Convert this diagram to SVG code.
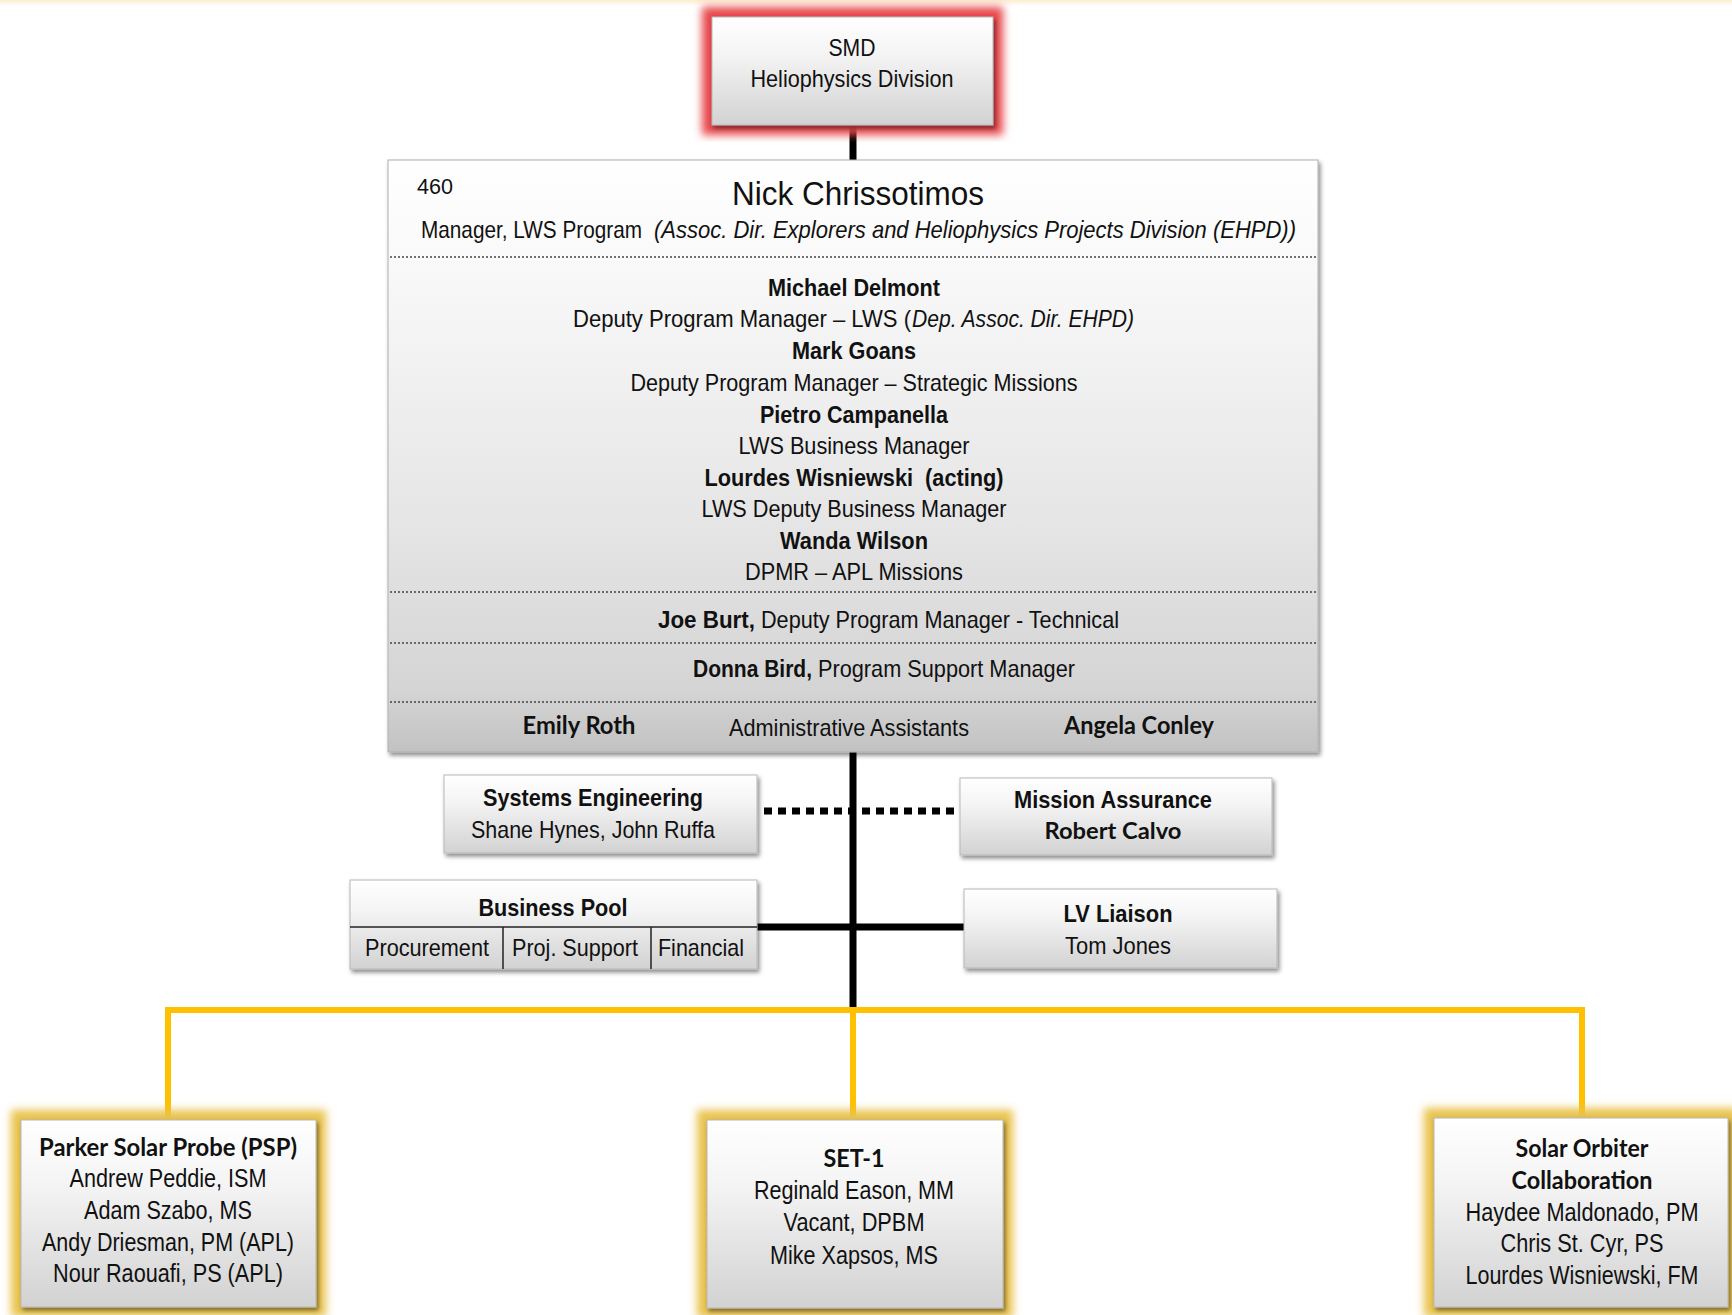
<svg xmlns="http://www.w3.org/2000/svg" width="1732" height="1315" viewBox="0 0 1732 1315">
<defs>
<linearGradient id="topband" x1="0" y1="0" x2="0" y2="1"><stop offset="0" stop-color="#fbeecf"/><stop offset="1" stop-color="#ffffff"/></linearGradient>
<linearGradient id="boxg" x1="0" y1="0" x2="0" y2="1"><stop offset="0" stop-color="#ffffff"/><stop offset="0.35" stop-color="#f4f4f4"/><stop offset="1" stop-color="#d2d2d2"/></linearGradient>
<linearGradient id="maing" x1="0" y1="0" x2="0" y2="1"><stop offset="0" stop-color="#ffffff"/><stop offset="0.15" stop-color="#fafafa"/><stop offset="0.6" stop-color="#e6e6e6"/><stop offset="0.9" stop-color="#d4d4d4"/><stop offset="1" stop-color="#c2c2c2"/></linearGradient>
<filter id="shadow" x="-5%" y="-5%" width="115%" height="120%"><feDropShadow dx="2" dy="3" stdDeviation="2" flood-color="#000" flood-opacity="0.45"/></filter>
<filter id="glow" x="-15%" y="-15%" width="130%" height="130%"><feGaussianBlur stdDeviation="4"/></filter>
<style>
text{font-family:"Liberation Sans",Arial,sans-serif;fill:#111;text-anchor:middle;font-size:24px}
.s{text-anchor:start}
.b{font-weight:bold}
.i{font-style:italic}
.cal{font-family:"Lato","Liberation Sans",sans-serif;font-weight:bold}
.bx{fill:url(#boxg);stroke:#b8b8b8;stroke-width:1;filter:url(#shadow)}
.dot{stroke:#444;stroke-width:1.5;stroke-dasharray:2 2;fill:none}
.blk{stroke:#000;stroke-width:7;fill:none}
.yel{stroke:#FFC000;stroke-width:6;fill:none}
.gy{fill:none;stroke:#e9c24c;stroke-width:20;filter:url(#glow)}
.gr{fill:none;stroke:#e8474c;stroke-width:20;filter:url(#glow)}
.bt{font-size:25px}
</style>
</defs>
<rect x="0" y="0" width="1732" height="1315" fill="#ffffff"/>
<rect x="0" y="0" width="1732" height="6" fill="url(#topband)"/>

<g id="connectors">
<line class="blk" x1="853" y1="122" x2="853" y2="162"/>
<line class="blk" x1="853" y1="750" x2="853" y2="1010"/>
<line x1="764" y1="811" x2="960" y2="811" stroke="#000" stroke-width="7" stroke-dasharray="8 6"/>
<line class="blk" x1="755" y1="927" x2="966" y2="927"/>
<path class="yel" d="M168,1118 V1010 H1582 V1118 M853,1010 V1118"/>
</g>

<g id="smd">
<rect class="gr" x="712" y="17" width="281" height="108"/>
<rect class="bx" x="712" y="17" width="281" height="108"/>
<g transform="scale(0.8,1)">
<text x="1065" y="56" textLength="58.75" lengthAdjust="spacingAndGlyphs">SMD</text>
<text x="1065" y="87" textLength="253.75" lengthAdjust="spacingAndGlyphs">Heliophysics Division</text>
</g>
</g>

<g id="lws-office">
<rect x="388" y="160" width="930" height="592" fill="url(#maing)" stroke="#b0b0b0" stroke-width="1" filter="url(#shadow)"/>
<line class="dot" x1="390" y1="257" x2="1316" y2="257"/>
<line class="dot" x1="390" y1="592" x2="1316" y2="592"/>
<line class="dot" x1="390" y1="643" x2="1316" y2="643"/>
<line class="dot" x1="390" y1="702" x2="1316" y2="702"/>
<g transform="scale(0.8,1)">
<text x="543.75" y="194" style="font-size:22px" textLength="45" lengthAdjust="spacingAndGlyphs">460</text>
<text x="1072.5" y="205" style="font-size:34px" textLength="315" lengthAdjust="spacingAndGlyphs">Nick Chrissotimos</text>
<text class="s" x="526.25" y="238" textLength="276.25" lengthAdjust="spacingAndGlyphs">Manager, LWS Program</text>
<text class="s i" x="817.5" y="238" textLength="802.5" lengthAdjust="spacingAndGlyphs">(Assoc. Dir. Explorers and Heliophysics Projects Division (EHPD))</text>
<text class="b" x="1067.5" y="296" textLength="215" lengthAdjust="spacingAndGlyphs">Michael Delmont</text>
<text class="s" x="716.25" y="327" textLength="422.5" lengthAdjust="spacingAndGlyphs">Deputy Program Manager – LWS (</text>
<text class="s i" x="1140" y="327" textLength="277.5" lengthAdjust="spacingAndGlyphs">Dep. Assoc. Dir. EHPD)</text>
<text class="b" x="1067.5" y="359" textLength="155" lengthAdjust="spacingAndGlyphs">Mark Goans</text>
<text x="1067.5" y="391" textLength="558.75" lengthAdjust="spacingAndGlyphs">Deputy Program Manager – Strategic Missions</text>
<text class="b" x="1067.5" y="423" textLength="235" lengthAdjust="spacingAndGlyphs">Pietro Campanella</text>
<text x="1067.5" y="454" textLength="288.75" lengthAdjust="spacingAndGlyphs">LWS Business Manager</text>
<text class="b" x="1067.5" y="486" xml:space="preserve" textLength="373.75" lengthAdjust="spacingAndGlyphs">Lourdes Wisniewski  (acting)</text>
<text x="1067.5" y="517" textLength="381.25" lengthAdjust="spacingAndGlyphs">LWS Deputy Business Manager</text>
<text class="b" x="1067.5" y="549" textLength="185" lengthAdjust="spacingAndGlyphs">Wanda Wilson</text>
<text x="1067.5" y="580" textLength="272.5" lengthAdjust="spacingAndGlyphs">DPMR – APL Missions</text>
<text class="s b" x="822.5" y="628" textLength="121.25" lengthAdjust="spacingAndGlyphs">Joe Burt,</text>
<text class="s" x="951.25" y="628" textLength="447.5" lengthAdjust="spacingAndGlyphs">Deputy Program Manager - Technical</text>
<text class="s b" x="866.25" y="677" textLength="148.75" lengthAdjust="spacingAndGlyphs">Donna Bird,</text>
<text class="s" x="1022.5" y="677" textLength="321.25" lengthAdjust="spacingAndGlyphs">Program Support Manager</text>
<text class="cal" x="723.75" y="734" textLength="141.25" lengthAdjust="spacingAndGlyphs">Emily Roth</text>
<text x="1061.25" y="736" textLength="300" lengthAdjust="spacingAndGlyphs">Administrative Assistants</text>
<text class="cal" x="1423.75" y="734" textLength="187.5" lengthAdjust="spacingAndGlyphs">Angela Conley</text>
</g>
</g>

<g id="systems-engineering">
<rect class="bx" x="444" y="775" width="313" height="78"/>
<g transform="scale(0.8,1)">
<text class="b" x="741.25" y="806" textLength="275" lengthAdjust="spacingAndGlyphs">Systems Engineering</text>
<text x="741.25" y="838" textLength="305" lengthAdjust="spacingAndGlyphs">Shane Hynes, John Ruffa</text>
</g>
</g>

<g id="mission-assurance">
<rect class="bx" x="960" y="778" width="312" height="77"/>
<g transform="scale(0.8,1)">
<text class="b" x="1391.25" y="808" textLength="247.5" lengthAdjust="spacingAndGlyphs">Mission Assurance</text>
<text class="cal" x="1391.25" y="839" style="font-size:23px" textLength="171.25" lengthAdjust="spacingAndGlyphs">Robert Calvo</text>
</g>
</g>

<g id="business-pool">
<rect class="bx" x="350" y="880" width="407" height="89"/>
<line x1="350" y1="927" x2="757" y2="927" stroke="#222" stroke-width="1.5"/>
<line x1="503" y1="927" x2="503" y2="969" stroke="#222" stroke-width="1.5"/>
<line x1="651" y1="927" x2="651" y2="969" stroke="#222" stroke-width="1.5"/>
<g transform="scale(0.8,1)">
<text class="b" x="691.25" y="916" textLength="186.25" lengthAdjust="spacingAndGlyphs">Business Pool</text>
<text x="533.75" y="956" textLength="155" lengthAdjust="spacingAndGlyphs">Procurement</text>
<text x="718.75" y="956" textLength="157.5" lengthAdjust="spacingAndGlyphs">Proj. Support</text>
<text x="876.25" y="956" textLength="107.5" lengthAdjust="spacingAndGlyphs">Financial</text>
</g>
</g>

<g id="lv-liaison">
<rect class="bx" x="964" y="889" width="313" height="79"/>
<g transform="scale(0.8,1)">
<text class="b" x="1397.5" y="922" textLength="136.25" lengthAdjust="spacingAndGlyphs">LV Liaison</text>
<text x="1397.5" y="954" textLength="132.5" lengthAdjust="spacingAndGlyphs">Tom Jones</text>
</g>
</g>

<g id="psp">
<rect class="gy" x="21" y="1120" width="295" height="187"/>
<rect class="bx" x="21" y="1120" width="295" height="187"/>
<g transform="scale(0.8,1)">
<text class="cal bt" x="210" y="1156" textLength="322.5" lengthAdjust="spacingAndGlyphs">Parker Solar Probe (PSP)</text>
<text class="bt" x="210" y="1187" textLength="246.25" lengthAdjust="spacingAndGlyphs">Andrew Peddie, ISM</text>
<text class="bt" x="210" y="1219" textLength="210" lengthAdjust="spacingAndGlyphs">Adam Szabo, MS</text>
<text class="bt" x="210" y="1251" textLength="315" lengthAdjust="spacingAndGlyphs">Andy Driesman, PM (APL)</text>
<text class="bt" x="210" y="1282" textLength="287.5" lengthAdjust="spacingAndGlyphs">Nour Raouafi, PS (APL)</text>
</g>
</g>

<g id="set-1">
<rect class="gy" x="707" y="1120" width="296" height="188"/>
<rect class="bx" x="707" y="1120" width="296" height="188"/>
<g transform="scale(0.8,1)">
<text class="cal bt" x="1067.5" y="1167" textLength="76.25" lengthAdjust="spacingAndGlyphs">SET-1</text>
<text class="bt" x="1067.5" y="1199" textLength="250" lengthAdjust="spacingAndGlyphs">Reginald Eason, MM</text>
<text class="bt" x="1067.5" y="1231" textLength="176.25" lengthAdjust="spacingAndGlyphs">Vacant, DPBM</text>
<text class="bt" x="1067.5" y="1264" textLength="210" lengthAdjust="spacingAndGlyphs">Mike Xapsos, MS</text>
</g>
</g>

<g id="solar-orbiter">
<rect class="gy" x="1434" y="1118" width="294" height="189"/>
<rect class="bx" x="1434" y="1118" width="294" height="189"/>
<g transform="scale(0.8,1)">
<text class="cal bt" x="1977.5" y="1157" textLength="166.25" lengthAdjust="spacingAndGlyphs">Solar Orbiter</text>
<text class="cal bt" x="1977.5" y="1189" textLength="176.25" lengthAdjust="spacingAndGlyphs">Collaboration</text>
<text class="bt" x="1977.5" y="1221" textLength="291.25" lengthAdjust="spacingAndGlyphs">Haydee Maldonado, PM</text>
<text class="bt" x="1977.5" y="1252" textLength="203.75" lengthAdjust="spacingAndGlyphs">Chris St. Cyr, PS</text>
<text class="bt" x="1977.5" y="1284" textLength="291.25" lengthAdjust="spacingAndGlyphs">Lourdes Wisniewski, FM</text>
</g>
</g>
</svg>
